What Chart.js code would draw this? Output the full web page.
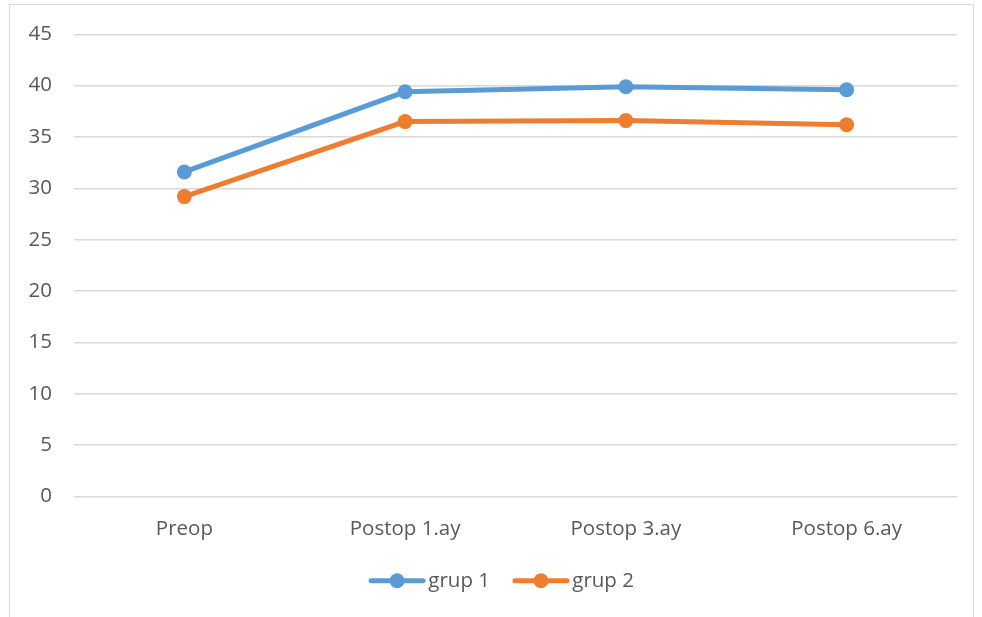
<!DOCTYPE html>
<html>
<head>
<meta charset="utf-8">
<script src="https://cdn.jsdelivr.net/npm/chart.js@4.4.0/dist/chart.umd.min.js"></script>
<style>
  html, body { margin: 0; padding: 0; background: #fff; }
  #wrap { position: relative; width: 982px; height: 617px; overflow: hidden; }
  #frame { position: absolute; left: 9px; top: 4px; width: 965px; height: 640px; border: 1.5px solid #d9d9d9; box-sizing: border-box; }
  canvas { position: absolute; left: 0; top: 0; }
</style>
</head>
<body>
<div id="wrap">
  <div id="frame"></div>
  <canvas id="chart" width="982" height="617"></canvas>
</div>
<script>
const categories = ["Preop", "Postop 1.ay", "Postop 3.ay", "Postop 6.ay"];
const grup1 = [31.6, 39.4, 39.9, 39.6];
const grup2 = [29.2, 36.5, 36.6, 36.2];
const seriesNames = ["grup 1", "grup 2"];
const yTicks = [0, 5, 10, 15, 20, 25, 30, 35, 40, 45];

const blue = "#5b9bd5";
const orange = "#ed7d31";
const textColor = "#595959";
const fontFamily = "Open Sans";
const fontSize = 20.5;

// legend is centred on the plot area rather than the whole canvas,
// and each entry gets an Excel-style line with a dot in the middle
const legendLines = {
  id: "legendLines",
  afterLayout(chart) {
    if (chart.legend) chart.legend.left = 45;
  },
  afterDraw(chart) {
    const legend = chart.legend;
    if (!legend || !legend.legendHitBoxes) return;
    const ctx = chart.ctx;
    legend.legendHitBoxes.forEach((box, i) => {
      const ds = chart.data.datasets[i];
      const y = box.top + box.height / 2;
      ctx.save();
      ctx.strokeStyle = ds.borderColor;
      ctx.lineWidth = 5;
      ctx.lineCap = "round";
      ctx.beginPath();
      ctx.moveTo(box.left + 3, y);
      ctx.lineTo(box.left + 55, y);
      ctx.stroke();
      ctx.fillStyle = ds.borderColor;
      ctx.beginPath();
      ctx.arc(box.left + 29, y, 7.5, 0, Math.PI * 2);
      ctx.fill();
      ctx.restore();
    });
  }
};

new Chart(document.getElementById("chart").getContext("2d"), {
  type: "line",
  data: {
    labels: categories,
    datasets: [
      {
        label: seriesNames[0],
        data: grup1,
        borderColor: blue,
        backgroundColor: blue,
        borderWidth: 5,
        pointRadius: 7.5,
        pointBackgroundColor: blue,
        pointBorderWidth: 0,
        tension: 0
      },
      {
        label: seriesNames[1],
        data: grup2,
        borderColor: orange,
        backgroundColor: orange,
        borderWidth: 5,
        pointRadius: 7.5,
        pointBackgroundColor: orange,
        pointBorderWidth: 0,
        tension: 0
      }
    ]
  },
  options: {
    responsive: false,
    animation: false,
    layout: { padding: { left: 0, right: 25, top: 30, bottom: 16 } },
    plugins: {
      tooltip: { enabled: false },
      legend: {
        position: "bottom",
        labels: {
          boxWidth: 50,
          boxHeight: 18,
          padding: 22,
          color: textColor,
          font: { family: fontFamily, size: fontSize },
          generateLabels(chart) {
            return chart.data.datasets.map((ds, i) => ({
              text: ds.label,
              fillStyle: "rgba(0,0,0,0)",
              strokeStyle: "rgba(0,0,0,0)",
              lineWidth: 0,
              fontColor: textColor,
              datasetIndex: i
            }));
          }
        }
      }
    },
    scales: {
      x: {
        offset: true,
        grid: { display: false, drawTicks: false },
        border: { display: false },
        ticks: { color: textColor, font: { family: fontFamily, size: fontSize }, padding: 20 },
        afterFit(scale) { scale.height = 52; }
      },
      y: {
        min: 0,
        max: 45,
        afterBuildTicks(scale) { scale.ticks = yTicks.map(v => ({ value: v })); },
        grid: { color: "#d9d9d9", lineWidth: 1.5, drawTicks: false },
        border: { display: false },
        ticks: { color: textColor, font: { family: fontFamily, size: fontSize }, padding: 22 },
        afterFit(scale) { scale.width = 74; }
      }
    }
  },
  plugins: [legendLines]
});
</script>
</body>
</html>
